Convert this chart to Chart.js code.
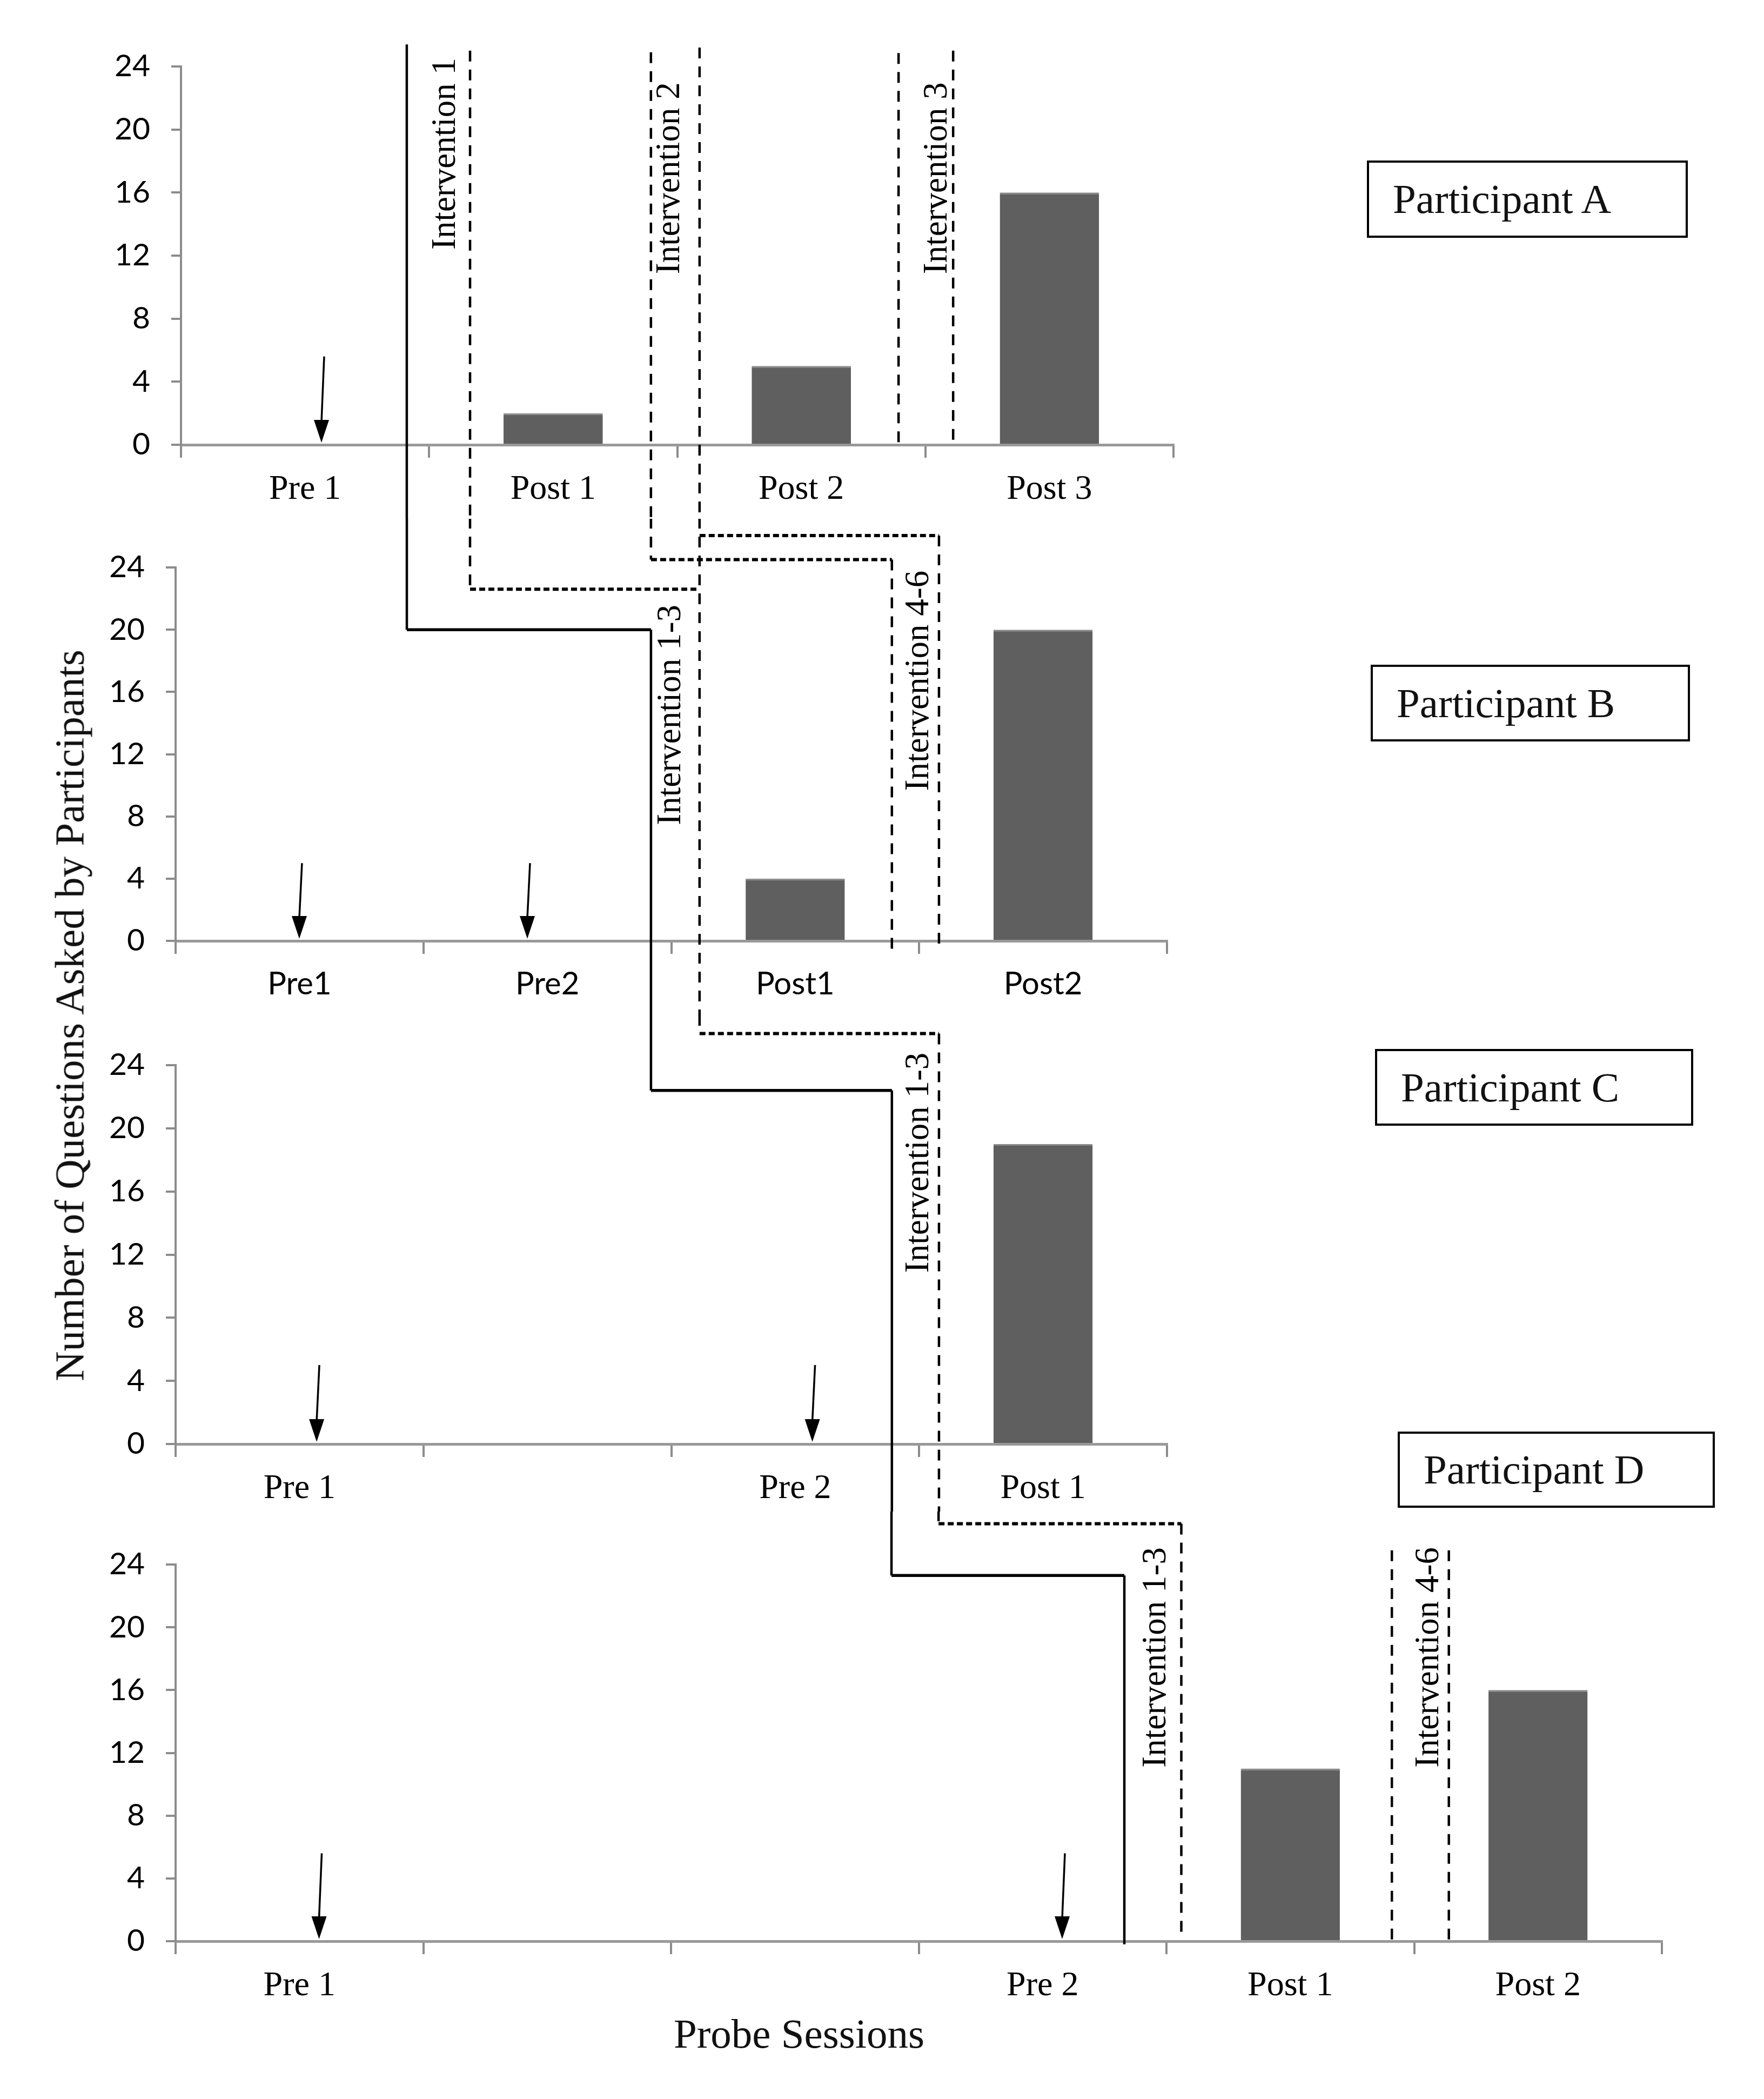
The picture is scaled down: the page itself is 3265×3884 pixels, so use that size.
<!DOCTYPE html>
<html>
<head>
<meta charset="utf-8">
<script src="https://cdn.jsdelivr.net/npm/chart.js@4.4.0/dist/chart.umd.min.js"></script>
<style>
  body { margin: 0; background: #fff; }
  #page { position: relative; width: 3265px; height: 3884px; overflow: hidden; background: #fff; }
  canvas { position: absolute; left: 0; }
  .pbox { position: absolute; border: 4px solid #000; box-sizing: border-box; display: flex; align-items: center;
          padding-left: 44px; font-family: 'Liberation Serif', 'Times New Roman', serif; font-size: 77px; color: #111; }
  .title { position: absolute; font-family: 'Liberation Serif', 'Times New Roman', serif; font-size: 77px; color: #111; white-space: nowrap; }
  #ytitle { left: 129px; top: 1879px; transform: translate(-50%, -50%) rotate(-90deg); }
  #xtitle { left: 1479px; top: 3763px; transform: translate(-50%, -50%); }
</style>
</head>
<body>
<div id="page">
  <canvas id="chartA" width="2240" height="960" style="top:0px"></canvas>
  <canvas id="chartB" width="2240" height="920" style="top:960px"></canvas>
  <canvas id="chartC" width="2240" height="917" style="top:1880px"></canvas>
  <canvas id="chartD" width="3160" height="903" style="top:2797px"></canvas>
  <div class="pbox" style="left:2530px;top:297px;width:594px;height:143px">Participant A</div>
  <div class="pbox" style="left:2537px;top:1230px;width:591px;height:142px">Participant B</div>
  <div class="pbox" style="left:2545px;top:1941px;width:589px;height:142px">Participant C</div>
  <div class="pbox" style="left:2587px;top:2649px;width:587px;height:141px">Participant D</div>
  <div class="title" id="ytitle">Number of Questions Asked by Participants</div>
  <div class="title" id="xtitle">Probe Sessions</div>
</div>
<script>
// sessions and questions asked per participant
const sessionsA = ['Pre 1', 'Post 1', 'Post 2', 'Post 3'];
const questionsA = [0, 2, 5, 16];
const sessionsB = ['Pre1', 'Pre2', 'Post1', 'Post2'];
const questionsB = [0, 0, 4, 20];
const sessionsC = ['Pre 1', '', 'Pre 2', 'Post 1'];
const questionsC = [0, 0, 0, 19];
const sessionsD = ['Pre 1', '', '', 'Pre 2', 'Post 1', 'Post 2'];
const questionsD = [0, 0, 0, 0, 11, 16];
const yTicks = [0, 4, 8, 12, 16, 20, 24];

// phase change lines: [session position, questions], +/-Infinity = runs on into the panel above/below
const phaseA = [
  { dashed: false, pts: [[0.91, 25.4], [0.91, -Infinity]] },
  { dashed: true, pts: [[1.165, 25.0], [1.165, -Infinity]] },
  { dashed: true, pts: [[1.894, 24.9], [1.894, -Infinity]] },
  { dashed: true, pts: [[2.09, 25.2], [2.09, -Infinity]] },
  { dashed: true, pts: [[2.892, 24.85], [2.892, 0]] },
  { dashed: true, pts: [[3.112, 25.0], [3.112, 0]] }
];
const phaseB = [
  { dashed: false, pts: [[0.933, Infinity], [0.933, 20], [1.918, 20], [1.918, -Infinity]] },
  { dashed: true, pts: [[1.188, Infinity], [1.188, 22.6], [2.114, 22.6]] },
  { dashed: true, pts: [[2.114, Infinity], [2.114, -Infinity]] },
  { dashed: true, pts: [[1.918, Infinity], [1.918, 24.5], [2.89, 24.5], [2.89, -1.0]] },
  { dashed: true, pts: [[2.114, 26.05], [3.08, 26.05], [3.08, -0.5]] }
];
const phaseC = [
  { dashed: false, pts: [[1.918, Infinity], [1.918, 22.4], [2.89, 22.4], [2.89, -Infinity]] },
  { dashed: true, pts: [[2.114, Infinity], [2.114, 26.0], [3.08, 26.0], [3.08, -Infinity]] }
];
const phaseD = [
  { dashed: false, pts: [[2.89, Infinity], [2.89, 23.3], [3.83, 23.3], [3.83, -0.2]] },
  { dashed: true, pts: [[3.08, Infinity], [3.08, 26.6], [4.06, 26.6], [4.06, 0.3]] },
  { dashed: true, pts: [[4.91, 24.9], [4.91, 0]] },
  { dashed: true, pts: [[5.14, 24.9], [5.14, 0]] }
];

// phase labels: [text, session position, questions at the top end of the text]
const labelsA = [['Intervention 1', 1.067, 24.55], ['Intervention 2', 1.971, 23.0], ['Intervention 3', 3.05, 23.0]];
const labelsB = [['Intervention 1-3', 2.00, 21.6], ['Intervention 4-6', 3.00, 23.8]];
const labelsC = [['Intervention 1-3', 3.00, 24.8]];
const labelsD = [['Intervention 1-3', 3.96, 25.1], ['Intervention 4-6', 5.06, 25.1]];

// arrows: [session position, questions at the tail]
const arrowsA = [[0.577, 5.6]];
const arrowsB = [[0.51, 5.0], [1.43, 5.0]];
const arrowsC = [[0.58, 5.0], [2.58, 5.0]];
const arrowsD = [[0.59, 5.6], [3.59, 5.6]];

const SERIF = "'Liberation Serif', 'Times New Roman', serif";
const SANS = "Lato, 'Liberation Sans', Arial, sans-serif";

function phasePlugin(lines, labels, arrows) {
  return {
    id: 'phaseLines',
    afterDraw(chart) {
      const ctx = chart.ctx;
      const xs = chart.scales.x, ys = chart.scales.y;
      const px = u => xs.getPixelForValue(u - 0.5);
      const py = v => v === Infinity ? -2 : (v === -Infinity ? chart.height + 2 : ys.getPixelForValue(v));
      ctx.save();
      ctx.strokeStyle = '#000';
      ctx.fillStyle = '#000';
      lines.forEach(line => {
        for (let i = 1; i < line.pts.length; i++) {
          const x0 = px(line.pts[i - 1][0]), y0 = py(line.pts[i - 1][1]);
          const x1 = px(line.pts[i][0]), y1 = py(line.pts[i][1]);
          const horiz = Math.abs(y1 - y0) < 1;
          if (line.dashed) {
            ctx.setLineDash(horiz ? [11, 6] : [20, 15]);
            ctx.lineWidth = horiz ? 6 : 4.5;
          } else {
            ctx.setLineDash([]);
            ctx.lineWidth = horiz ? 5.5 : 4.5;
          }
          ctx.beginPath();
          ctx.moveTo(x0, y0);
          ctx.lineTo(x1, y1);
          ctx.stroke();
        }
      });
      ctx.setLineDash([]);

      ctx.font = '63px ' + SERIF;
      ctx.textAlign = 'right';
      ctx.textBaseline = 'middle';
      labels.forEach(([text, u, v]) => {
        ctx.save();
        ctx.translate(px(u), py(v));
        ctx.rotate(-Math.PI / 2);
        ctx.fillText(text, 0, 0);
        ctx.restore();
      });

      arrows.forEach(([u, v]) => {
        const x = px(u), y0 = py(v), tip = ys.getPixelForValue(0) - 4;
        const xt = x - 5, head = 42;
        ctx.lineWidth = 3.5;
        ctx.beginPath();
        ctx.moveTo(x, y0);
        ctx.lineTo(xt, tip - head + 4);
        ctx.stroke();
        ctx.beginPath();
        ctx.moveTo(xt, tip);
        ctx.lineTo(xt - 14, tip - head);
        ctx.lineTo(xt + 14, tip - head);
        ctx.closePath();
        ctx.fill();
      });
      ctx.restore();
    }
  };
}

function makePanel(id, sessions, questions, opts) {
  const canvas = document.getElementById(id);
  return new Chart(canvas.getContext('2d'), {
    type: 'bar',
    data: {
      labels: sessions,
      datasets: [{
        data: questions,
        backgroundColor: '#5f5f5f',
        borderColor: '#8a8a8a',
        borderWidth: { top: 3, right: 0, bottom: 0, left: 0 },
        barPercentage: 0.4,
        categoryPercentage: 1.0
      }]
    },
    options: {
      responsive: false,
      animation: false,
      devicePixelRatio: 1,
      layout: { padding: { left: 0, right: canvas.width - opts.right, top: opts.top, bottom: 0 } },
      plugins: { legend: { display: false }, tooltip: { enabled: false } },
      scales: {
        x: {
          offset: true,
          grid: { offset: true, drawOnChartArea: false, drawTicks: true, tickLength: 24, color: '#8c8c8c', lineWidth: 4 },
          border: { display: true, color: '#999', width: 5 },
          ticks: { color: '#000', font: opts.xFont, padding: 21, maxRotation: 0, autoSkip: false },
          afterFit: scale => { scale.height = opts.xHeight; }
        },
        y: {
          min: 0,
          max: 24,
          afterBuildTicks: scale => { scale.ticks = yTicks.map(v => ({ value: v })); },
          grid: { drawOnChartArea: false, drawTicks: true, tickLength: 18, color: '#8c8c8c', lineWidth: 4 },
          border: { display: true, color: '#8c8c8c', width: 4 },
          ticks: { color: '#000', font: { family: SANS, size: 57 }, padding: 39 },
          afterFit: scale => { scale.width = opts.left; }
        }
      }
    },
    plugins: [phasePlugin(opts.lines, opts.labels, opts.arrows)]
  });
}

const serifTicks = { family: SERIF, size: 64 };
makePanel('chartA', sessionsA, questionsA, { left: 335, top: 123, right: 2172, xHeight: 137, xFont: serifTicks, lines: phaseA, labels: labelsA, arrows: arrowsA });
makePanel('chartB', sessionsB, questionsB, { left: 325, top: 90, right: 2160, xHeight: 139, xFont: { family: SANS, size: 58 }, lines: phaseB, labels: labelsB, arrows: arrowsB });
makePanel('chartC', sessionsC, questionsC, { left: 325, top: 91, right: 2160, xHeight: 125, xFont: serifTicks, lines: phaseC, labels: labelsC, arrows: arrowsC });
makePanel('chartD', sessionsD, questionsD, { left: 325, top: 98, right: 3076, xHeight: 108, xFont: serifTicks, lines: phaseD, labels: labelsD, arrows: arrowsD });
</script>
</body>
</html>
